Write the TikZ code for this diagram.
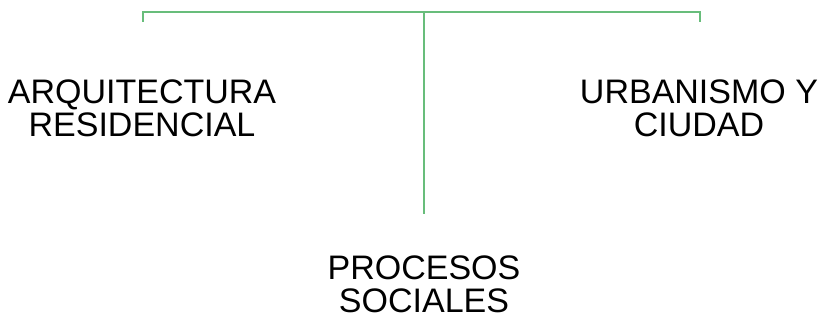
\documentclass[tikz,border=0pt]{standalone}
\usepackage{fontspec}
\setmainfont{Liberation Sans}
\usepackage{xcolor}
\definecolor{branchgreen}{RGB}{104,189,123}
\tikzset{topic/.style={align=center,anchor=base,inner sep=0pt,text depth=0pt,
   font=\fontsize{34}{33}\selectfont},
 branch/.style={draw=branchgreen,line width=2.4pt},
 x=1pt,y=1pt,
 }

\begin{document}
\begin{tikzpicture}
        \useasboundingbox (0,0) rectangle (825,-320);
        % corchete de arriba
        \coordinate (top) at (424,-12);
        \coordinate (left) at (143,-12);
        \coordinate (right) at (700,-12);
        \coordinate (lefttip) at (143,-22);
        \coordinate (righttip) at (700,-22);
        \coordinate (down) at (424,-214);
        \draw[branch] (lefttip) -- (left) -- (right) -- (righttip);
        \draw[branch] (top) -- (down);
        % textos (base = ultima linea)
        \node[topic] (arq) at (142,-137) {ARQUITECTURA\\RESIDENCIAL};
        \node[topic] (urb) at (699,-137) {URBANISMO Y\\CIUDAD};
        \node[topic] (proc) at (424,-313) {PROCESOS\\SOCIALES};
    \end{tikzpicture}
\end{document}
